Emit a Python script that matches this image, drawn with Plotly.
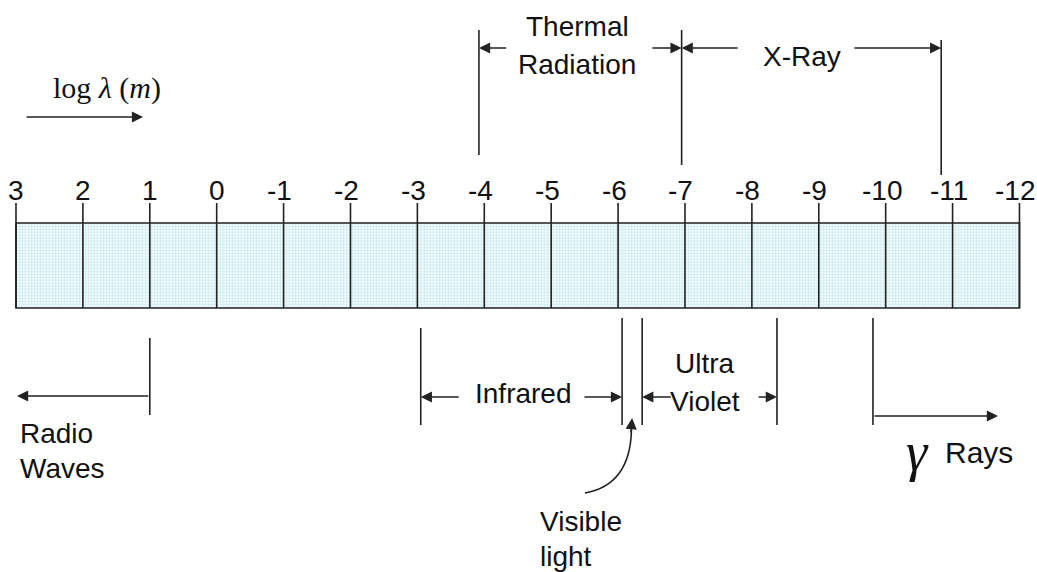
import plotly.graph_objects as go

# ---- data (log10 of wavelength in metres) ----
tick_values = [3, 2, 1, 0, -1, -2, -3, -4, -5, -6, -7, -8, -9, -10, -11, -12]
tick_labels = ["3", "2", "1", "0", "-1", "-2", "-3", "-4", "-5", "-6", "-7", "-8", "-9", "-10", "-11", "-12"]

radio_edge = [1.0]
thermal_edges = [-3.92, -6.95]
xray_edges = [-6.95, -10.83]
infrared_edges = [-3.05, -6.06]
visible_edges = [-6.06, -6.36]
uv_edges = [-6.36, -8.375]
gamma_edge = [-9.81]

# ---- layout constants (pixel-like vertical scale) ----
W, H = 1037, 572
X_RANGE = [3.239, -12.262]
BAR_TOP, BAR_BOT, TICK_TOP = 223, 308, 203
LINE = "#222222"
TXT = "#111111"
SANS = "Liberation Sans, Arial, sans-serif"
SERIF = "Liberation Serif, Times New Roman, serif"
FS = 28

fig = go.Figure()

# filled bar
x0, x1 = tick_values[0], tick_values[-1]
fig.add_trace(go.Scatter(
    x=[x0, x1, x1, x0, x0], y=[BAR_TOP, BAR_TOP, BAR_BOT, BAR_BOT, BAR_TOP],
    mode="lines", fill="toself", fillcolor="rgba(0,0,0,0)",
    fillpattern=dict(shape=".", fgcolor="#a6dbe6", bgcolor="#f3fafb", size=3, solidity=0.45),
    line=dict(color=LINE, width=1.6), hoverinfo="skip", showlegend=False))

# ticks
tx, ty = [], []
for v in tick_values:
    tx += [v, v, None]
    ty += [TICK_TOP, BAR_BOT, None]
fig.add_trace(go.Scatter(x=tx, y=ty, mode="lines", line=dict(color=LINE, width=1.6),
                         hoverinfo="skip", showlegend=False))

# band vertical markers
segs = [
    (thermal_edges[0], 30, 155), (thermal_edges[1], 30, 165), (xray_edges[1], 40, 175),
    (radio_edge[0], 338, 415), (infrared_edges[0], 328, 425),
    (visible_edges[0], 318, 425), (visible_edges[1], 318, 425),
    (uv_edges[1], 318, 425), (gamma_edge[0], 318, 425),
]
vx, vy = [], []
for v, a, b in segs:
    vx += [v, v, None]
    vy += [a, b, None]
fig.add_trace(go.Scatter(x=vx, y=vy, mode="lines", line=dict(color=LINE, width=1.6),
                         hoverinfo="skip", showlegend=False))

annotations = []

def arrow(x_tail, x_tip, y, y_tail=None):
    annotations.append(dict(
        x=x_tip, y=y, ax=x_tail, ay=y if y_tail is None else y_tail,
        xref="x", yref="y", axref="x", ayref="y", text="", showarrow=True,
        arrowhead=2, arrowsize=1.4, arrowwidth=1.6, arrowcolor=LINE, standoff=0))

def label(x, y, text, size=FS, font=SANS, xanchor="center", xshift=0):
    annotations.append(dict(x=x, y=y, xref="x", yref="y", text=text, showarrow=False,
                            xanchor=xanchor, yanchor="middle", xshift=xshift,
                            font=dict(family=font, size=size, color=TXT)))

# tick labels
for v, t in zip(tick_values, tick_labels):
    label(v, 190, t, size=28, xshift=(-4 if t.startswith("-") else 0))

# log lambda
label(1.64, 88, "log <i>λ</i> (<i>m</i>)", size=30, font=SERIF)
arrow(2.865, 1.10, 117)

# thermal radiation
arrow(-4.35, thermal_edges[0], 48)
arrow(-6.49, thermal_edges[1], 48)
label(-5.39, 26, "Thermal")
label(-5.39, 64, "Radiation")

# x-ray
arrow(-7.81, xray_edges[0], 48)
arrow(-9.51, xray_edges[1], 48)
label(-8.75, 56, "X-Ray")

# radio
arrow(radio_edge[0], 2.985, 396)
label(2.97, 433, "Radio", xanchor="left")
label(2.97, 468, "Waves", xanchor="left")

# infrared
arrow(-3.64, infrared_edges[0], 397)
arrow(-5.475, infrared_edges[1], 397)
label(-4.59, 393, "Infrared")

# ultra violet
arrow(-6.81, uv_edges[0], 397)
arrow(-8.08, uv_edges[1], 397)
label(-7.30, 363, "Ultra")
label(-7.30, 401, "Violet")

# gamma rays
arrow(gamma_edge[0], -11.68, 416)
label(-10.47, 452, "<i>γ</i>", size=54, font=SERIF)
label(-11.40, 452, "Rays", size=30)

# visible light
arrow(-6.19, -6.21, 418, y_tail=434)
label(-4.81, 521, "Visible", xanchor="left")
label(-4.81, 556, "light", xanchor="left")

fig.update_layout(
    width=W, height=H, margin=dict(l=0, r=0, t=0, b=0),
    paper_bgcolor="white", plot_bgcolor="white",
    xaxis=dict(range=X_RANGE, visible=False, fixedrange=True),
    yaxis=dict(range=[H, 0], visible=False, fixedrange=True),
    annotations=annotations,
    shapes=[dict(type="path", xref="x", yref="y",
                 path="M -5.505,493 Q -6.18,485 -6.20,430",
                 line=dict(color=LINE, width=1.6))],
    showlegend=False,
)

fig.write_html(
    "out.html",
    config={"displayModeBar": False},
    post_script="document.body.style.margin='0';document.body.style.overflow='hidden';",
)
